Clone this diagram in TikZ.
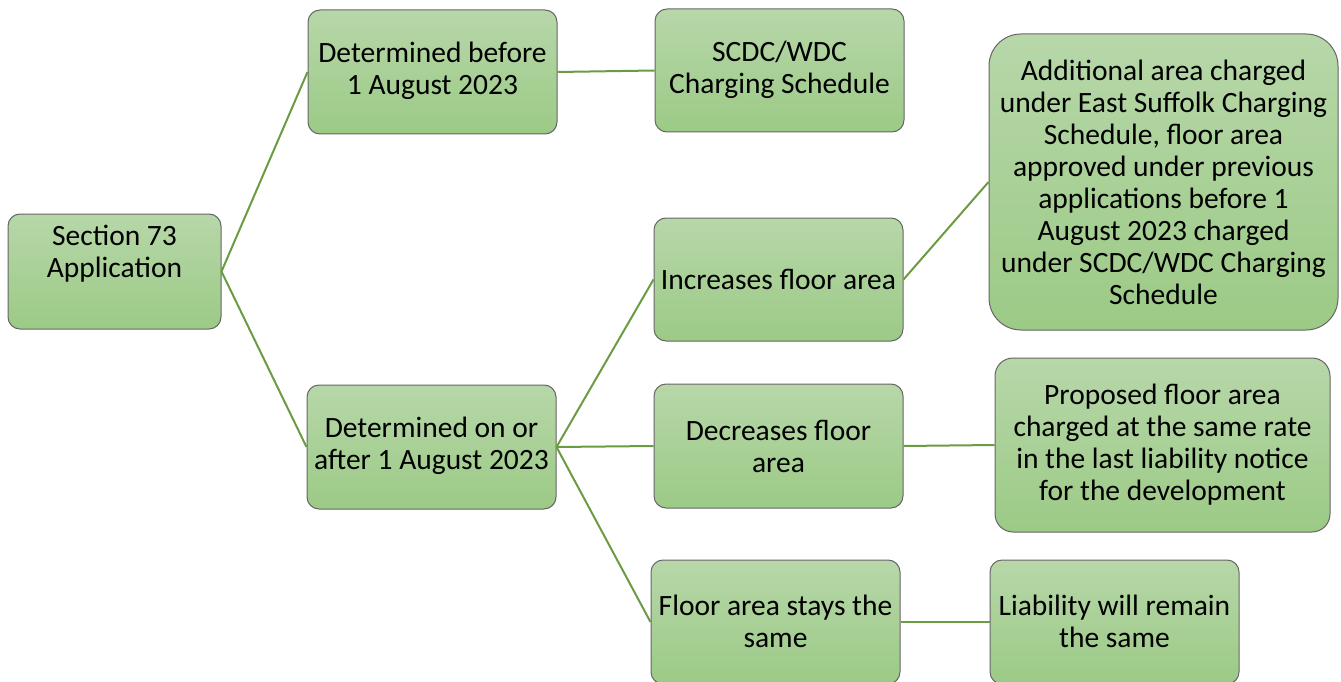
\documentclass[tikz,border=0pt]{standalone}
\usepackage{fontspec}
\setmainfont{Carlito}
\begin{document}
\begin{tikzpicture}[x=1pt,y=-1pt,
  box/.style={draw=boxline, line width=1pt, rounded corners=12pt, top color=gtop, bottom color=gbot, shading angle=0, inner sep=0pt},
  txt/.style={align=center, inner sep=0pt, font=\fontsize{29.5}{32}\selectfont, text=black},
  conn/.style={draw=conncol, line width=2pt}]
\definecolor{gtop}{HTML}{B7D7A9}
\definecolor{gbot}{HTML}{9CCA86}
\definecolor{boxline}{HTML}{666666}
\definecolor{conncol}{HTML}{6B9B42}
\useasboundingbox (0,0) rectangle (1341,682);
% boxes
\node[box, minimum width=213pt, minimum height=115pt] (A) at (114.5,271.5) {};
\node[box, minimum width=249pt, minimum height=124pt] (B) at (432.5,72) {};
\node[box, minimum width=249pt, minimum height=123pt] (C) at (779.5,70.5) {};
\node[box, minimum width=249pt, minimum height=124pt] (D) at (431.5,447) {};
\node[box, minimum width=249pt, minimum height=123pt] (E) at (778.5,279.5) {};
\node[box, rounded corners=32pt, minimum width=349pt, minimum height=296pt] (F) at (1163.5,182) {};
\node[box, minimum width=249pt, minimum height=124pt] (G) at (778.5,446) {};
\node[box, rounded corners=18pt, minimum width=335pt, minimum height=174pt] (H) at (1162.5,445) {};
\node[box, minimum width=249pt, minimum height=124pt] (I) at (775.5,622) {};
\node[box, minimum width=249pt, minimum height=124pt] (J) at (1114.5,622) {};
% texts
\node[txt] (tA) at (114.5,254) {Section 73\\Application};
\node[txt] (tB) at (432.5,71) {Determined before\\1 August 2023};
\node[txt] (tC) at (779.5,70) {SCDC/WDC\\Charging Schedule};
\node[txt] (tD) at (431.5,446) {Determined on or\\after 1 August 2023};
\node[txt] (tE) at (778.5,279) {Increases floor area};
\node[txt] (tF) at (1163.5,182) {Additional area charged\\under East Suffolk Charging\\Schedule, floor area\\approved under previous\\applications before 1\\August 2023 charged\\under SCDC/WDC Charging\\Schedule};
\node[txt] (tG) at (778.5,446) {Decreases floor\\area};
\node[txt] (tH) at (1162.5,444.5) {Proposed floor area\\charged at the same rate\\in the last liability notice\\for the development};
\node[txt] (tI) at (775.5,621) {Floor area stays the\\same};
\node[txt] (tJ) at (1114.5,621) {Liability will remain\\the same};
% connectors
\draw[conn] (A.east) -- (B.west);
\draw[conn] (A.east) -- (D.west);
\draw[conn] (B.east) -- (C.west);
\draw[conn] (D.east) -- (E.west);
\draw[conn] (D.east) -- (G.west);
\draw[conn] (D.east) -- (I.west);
\draw[conn] (E.east) -- (F.west);
\draw[conn] (G.east) -- (H.west);
\draw[conn] (I.east) -- (J.west);
\end{tikzpicture}
\end{document}
